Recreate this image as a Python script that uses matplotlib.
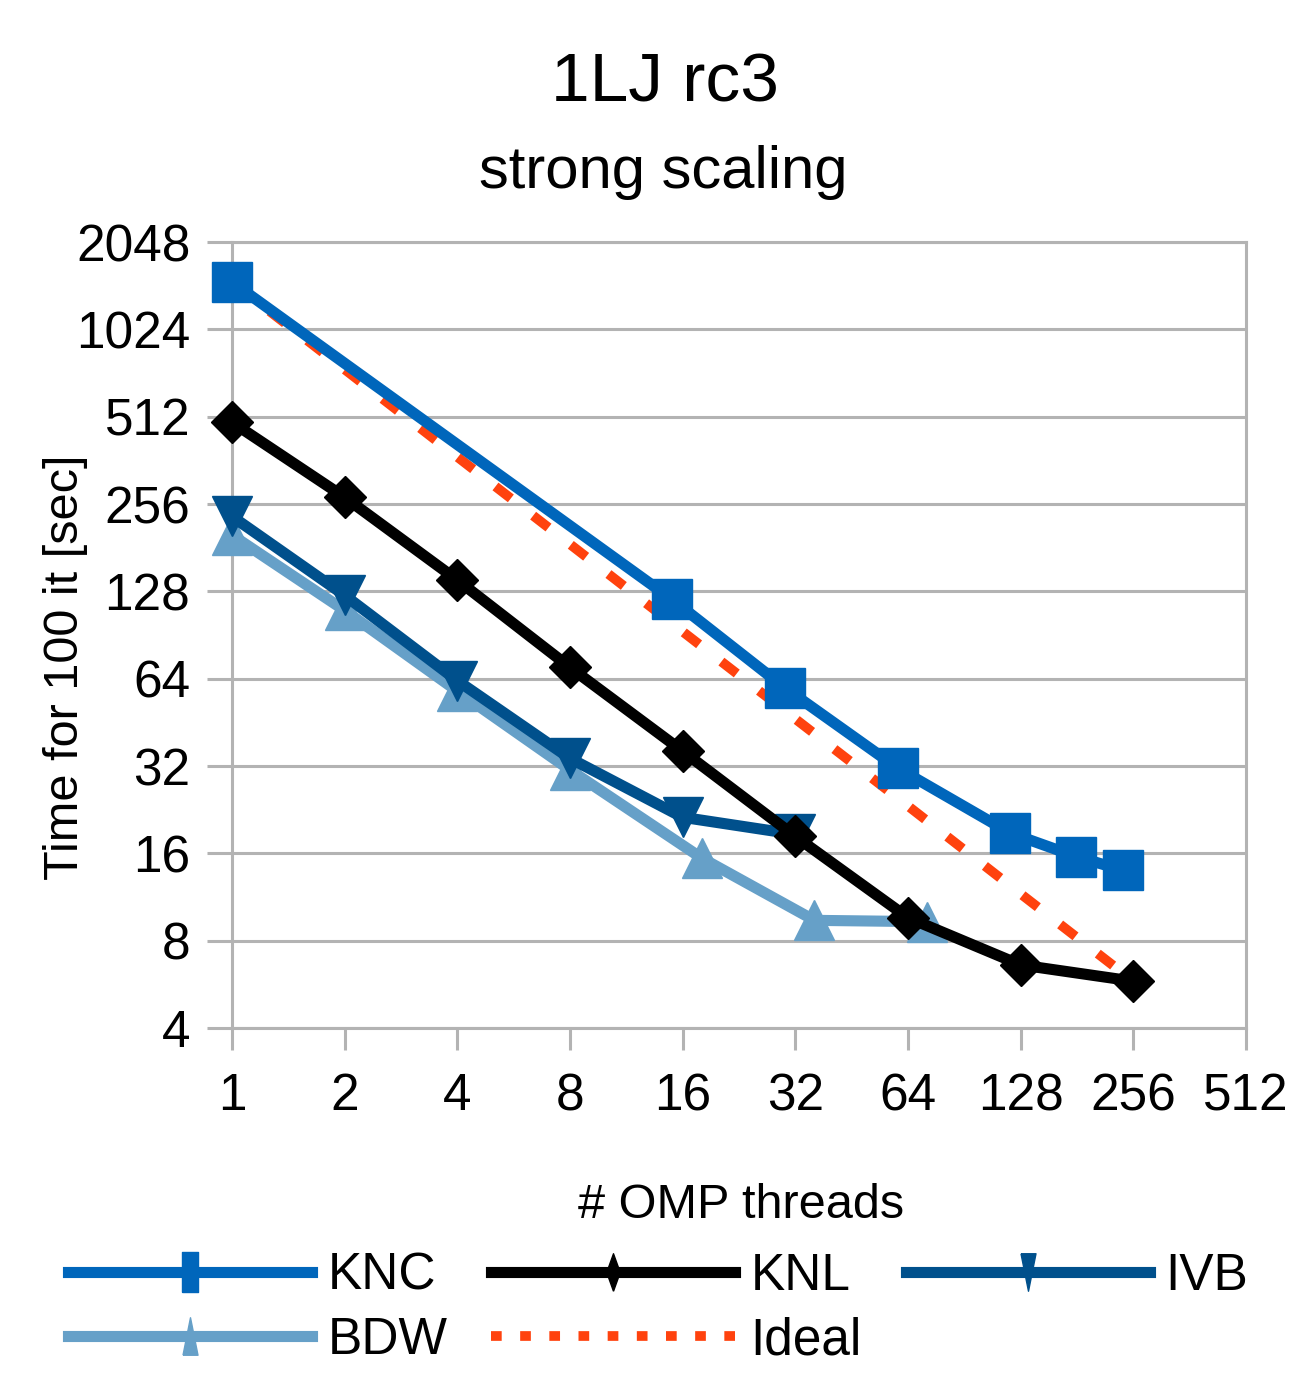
import matplotlib.pyplot as plt
from matplotlib.lines import Line2D
from matplotlib.ticker import FixedLocator, NullLocator

plt.rcParams['font.family'] = ['Liberation Sans', 'DejaVu Sans']

# ----------------------------
# Data
# ----------------------------
threads_knc = [1, 15, 30, 60, 120, 180, 240]
time_knc = [1490, 120, 59.5, 31.5, 18.8, 15.6, 14.0]

threads_knl = [1, 2, 4, 8, 16, 32, 64, 128, 256]
time_knl = [490, 270, 140, 70, 36, 18.3, 9.6, 6.6, 5.8]

threads_ivb = [1, 2, 4, 8, 16, 32]
time_ivb = [232, 124, 63, 34, 21.3, 18.6]

threads_bdw = [1, 2, 4, 8, 18, 36, 72]
time_bdw = [200, 110, 58, 31, 15.4, 9.4, 9.3]

threads_ideal = [1, 2, 4, 8, 16, 32, 64, 128, 256]
time_ideal = [1490, 745, 372, 186, 93, 46.5, 23.3, 11.6, 5.8]

x_ticks = [1, 2, 4, 8, 16, 32, 64, 128, 256, 512]
y_ticks = [4, 8, 16, 32, 64, 128, 256, 512, 1024, 2048]

# ----------------------------
# Style
# ----------------------------
c_knc = "#0066BB"
c_knl = "#000000"
c_ivb = "#00508C"
c_bdw = "#66A0C8"
c_ideal = "#FF420E"
c_grid = "#B3B3B3"
lw = 8

fig = plt.figure(figsize=(12.98, 13.75), dpi=100)
ax = fig.add_axes([232 / 1298, 1 - 1028 / 1375, (1246 - 232) / 1298, (1028 - 242) / 1375])

ax.plot(threads_ideal, time_ideal, color=c_ideal, lw=7, dashes=(2.0, 2.9),
        dash_capstyle="butt", zorder=2, clip_on=False)
ax.plot(threads_bdw, time_bdw, color=c_bdw, lw=lw, marker="^", ms=29, zorder=3, clip_on=False)
ax.plot(threads_ivb, time_ivb, color=c_ivb, lw=lw, marker="v", ms=29, zorder=4, clip_on=False)
ax.plot(threads_knl, time_knl, color=c_knl, lw=lw, marker="D", ms=21, zorder=5, clip_on=False)
ax.plot(threads_knc, time_knc, color=c_knc, lw=lw, marker="s", ms=29, zorder=6, clip_on=False)

ax.set_xscale("log", base=2)
ax.set_yscale("log", base=2)
ax.set_xlim(1, 512)
ax.set_ylim(4, 2048)
ax.xaxis.set_major_locator(FixedLocator(x_ticks))
ax.yaxis.set_major_locator(FixedLocator(y_ticks))
ax.xaxis.set_minor_locator(NullLocator())
ax.yaxis.set_minor_locator(NullLocator())
ax.set_xticklabels([str(v) for v in x_ticks])
ax.set_yticklabels([str(v) for v in y_ticks])

ax.grid(True, axis="y", color=c_grid, lw=2.2, zorder=0)
ax.set_axisbelow(True)
for s in ax.spines.values():
    s.set_color(c_grid)
    s.set_linewidth(2.2)
ax.tick_params(axis="x", length=16, width=2.2, color=c_grid, labelsize=37, pad=16)
ax.tick_params(axis="y", length=18, width=2.2, color=c_grid, labelsize=37, pad=12)

# ----------------------------
# Titles and labels
# ----------------------------
fig.text(665 / 1298, 1 - 102 / 1375, "1LJ rc3", fontsize=50, ha="center", va="baseline")
fig.text(663 / 1298, 1 - 188 / 1375, "strong scaling", fontsize=43, ha="center", va="baseline")
fig.text(741 / 1298, 1 - 1218 / 1375, "# OMP threads", fontsize=35, ha="center", va="baseline")
fig.text(66 / 1298, 1 - 667 / 1375, "Time for 100 it [sec]", fontsize=35,
         rotation=90, ha="center", va="center")

# ----------------------------
# Legend (squeezed markers like the original)
# ----------------------------
m_rect = [(-0.2, -0.5), (0.2, -0.5), (0.2, 0.5), (-0.2, 0.5), (-0.2, -0.5)]
m_diam = [(0, -0.5), (0.18, 0), (0, 0.5), (-0.18, 0), (0, -0.5)]
m_down = [(-0.2, 0.5), (0.2, 0.5), (0, -0.5), (-0.2, 0.5)]
m_up = [(-0.2, -0.5), (0.2, -0.5), (0, 0.5), (-0.2, -0.5)]

h_knc = Line2D([], [], color=c_knc, lw=lw, marker=m_rect, ms=29)
h_knl = Line2D([], [], color=c_knl, lw=lw, marker=m_diam, ms=27)
h_ivb = Line2D([], [], color=c_ivb, lw=lw, marker=m_down, ms=27)
h_bdw = Line2D([], [], color=c_bdw, lw=lw, marker=m_up, ms=27)
h_ideal = Line2D([], [], color=c_ideal, lw=7, dashes=(1.1, 1.9), dash_capstyle="butt")

fig.legend([h_knc, h_bdw, h_knl, h_ideal, h_ivb],
           ["KNC", "BDW", "KNL", "Ideal", "IVB"],
           ncol=3, loc="upper left", bbox_to_anchor=(68 / 1298, 1 - 1252 / 1375),
           frameon=False, fontsize=37, handlelength=4.75, handletextpad=0.3,
           columnspacing=0.85, labelspacing=0.3, borderpad=0, borderaxespad=0)

plt.savefig("out.png", dpi=100)
